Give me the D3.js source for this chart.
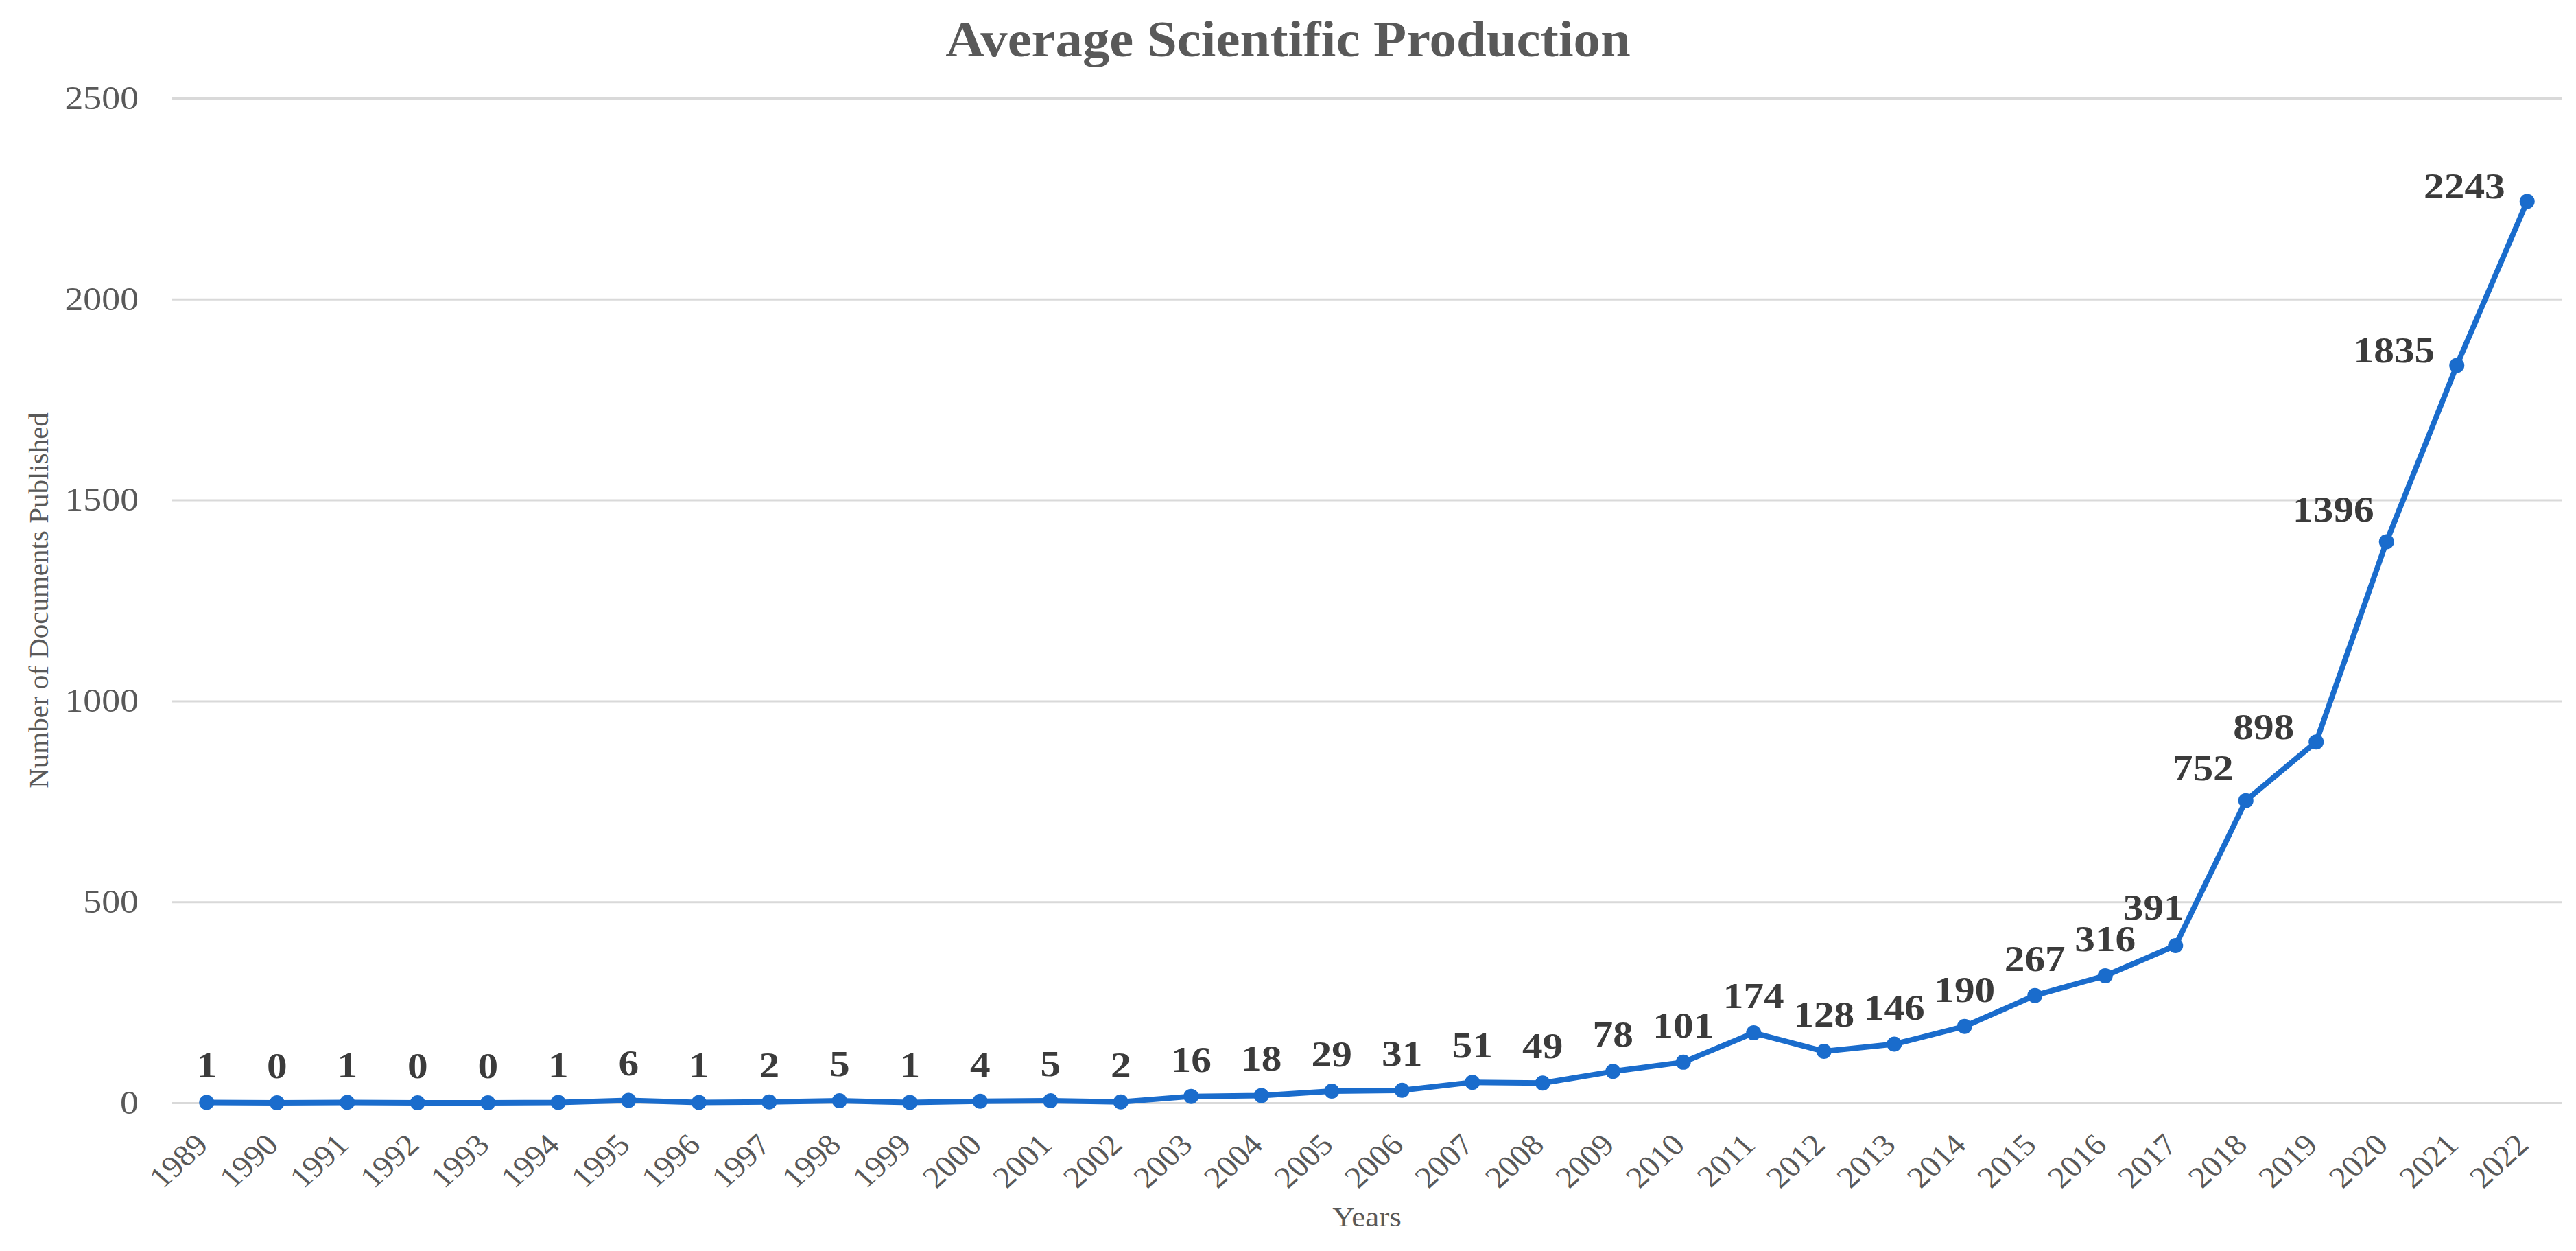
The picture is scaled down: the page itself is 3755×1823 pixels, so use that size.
<!DOCTYPE html>
<html>
    <head>
        <meta charset="utf-8">
        <title>Average Scientific Production</title>
        <script src="https://cdn.jsdelivr.net/npm/d3@7"></script>
        <style>
            body { margin: 0; background: #fff; }
            text { font-family: "Times New Roman", "Liberation Serif", serif; }
        </style>
    </head>
    <body>
        <script>
            // chart data
            var years = ["1989","1990","1991","1992","1993","1994","1995","1996","1997","1998",
                         "1999","2000","2001","2002","2003","2004","2005","2006","2007","2008",
                         "2009","2010","2011","2012","2013","2014","2015","2016","2017","2018",
                         "2019","2020","2021","2022"];
            var documents = [1,0,1,0,0,1,6,1,2,5,
                             1,4,5,2,16,18,29,31,51,49,
                             78,101,174,128,146,190,267,316,391,752,
                             898,1396,1835,2243];
            var yTicks = [0, 500, 1000, 1500, 2000, 2500];
            // where each value label sits relative to its point
            var labelSide = ["above","above","above","above","above","above","above","above","above","above",
                             "above","above","above","above","above","above","above","above","above","above",
                             "above","above","above","above","above","above","above","above","above-left","left-high",
                             "left","left-high","left","left"];

            var W = 3755, H = 1823;
            var plotLeft = 250, plotRight = 3735, plotTop = 143, plotBottom = 1607;
            var stretch = 1.12; // the source picture is a little wider than tall

            var placements = {
                "above":      { anchor: "middle", dx: 0,   dy: -36 },
                "above-left": { anchor: "middle", dx: -32, dy: -38 },
                "left-high":  { anchor: "end",    dx: -18, dy: -30 },
                "left":       { anchor: "end",    dx: -32, dy: -4 }
            };

            var svg = d3.select("body").append("svg")
                .attr("width", W)
                .attr("height", H);

            var x = d3.scalePoint().domain(years).range([plotLeft, plotRight]).padding(0.5);
            var y = d3.scaleLinear().domain([0, 2500]).range([plotBottom, plotTop]);

            // gridlines + y labels
            var yAxis = svg.append("g")
                .attr("transform", "translate(" + plotLeft + ",0)")
                .call(d3.axisLeft(y).tickValues(yTicks).tickFormat(d3.format("d"))
                    .tickSize(-(plotRight - plotLeft)).tickPadding(48));
            yAxis.select(".domain").remove();
            yAxis.selectAll(".tick line").attr("stroke", "#d9d9d9").attr("stroke-width", 3);
            yAxis.selectAll(".tick text")
                .attr("x", -48 / stretch)
                .attr("transform", "scale(" + stretch + ",1)")
                .attr("fill", "#595959")
                .style("font-size", "48px")
                .style("font-family", "'Times New Roman', 'Liberation Serif', serif");

            // x labels, rotated
            var xAxis = svg.append("g")
                .attr("transform", "translate(0," + plotBottom + ")")
                .call(d3.axisBottom(x).tickSize(0));
            xAxis.select(".domain").remove();
            xAxis.selectAll(".tick text")
                .attr("x", 0).attr("y", 0).attr("dy", 0)
                .attr("transform", "translate(4,64) scale(1.1,1) rotate(-45)")
                .attr("text-anchor", "end")
                .attr("fill", "#595959")
                .style("font-size", "44px")
                .style("font-family", "'Times New Roman', 'Liberation Serif', serif");

            // line + markers
            var line = d3.line()
                .x(function(d, i){ return x(years[i]); })
                .y(function(d){ return y(d); });

            svg.append("path")
                .datum(documents)
                .attr("d", line)
                .attr("fill", "none")
                .attr("stroke", "#1a6ccc")
                .attr("stroke-width", 8)
                .attr("stroke-linejoin", "round");

            svg.selectAll("circle.pt")
                .data(documents)
                .enter()
                .append("circle")
                .attr("class", "pt")
                .attr("cx", function(d, i){ return x(years[i]); })
                .attr("cy", function(d){ return y(d); })
                .attr("r", 11)
                .attr("fill", "#1a6ccc");

            // value labels
            svg.selectAll("text.val")
                .data(documents)
                .enter()
                .append("text")
                .attr("class", "val")
                .attr("transform", function(d, i){
                    var p = placements[labelSide[i]];
                    return "translate(" + (x(years[i]) + p.dx) + "," + (y(d) + p.dy) + ") scale(" + stretch + ",1)";
                })
                .attr("text-anchor", function(d, i){ return placements[labelSide[i]].anchor; })
                .attr("fill", "#3b3b3b")
                .style("font-size", "53px")
                .style("font-weight", "bold")
                .text(function(d){ return d; });

            // titles
            svg.append("text")
                .attr("transform", "translate(" + (W / 2) + ",82) scale(1.05,1)")
                .attr("text-anchor", "middle")
                .attr("fill", "#595959")
                .style("font-size", "75px")
                .style("font-weight", "bold")
                .text("Average Scientific Production");

            svg.append("text")
                .attr("transform", "translate(70," + ((plotTop + plotBottom) / 2) + ") rotate(-90)")
                .attr("text-anchor", "middle")
                .attr("fill", "#595959")
                .style("font-size", "41px")
                .text("Number of Documents Published");

            svg.append("text")
                .attr("transform", "translate(" + ((plotLeft + plotRight) / 2) + ",1787) scale(1.1,1)")
                .attr("text-anchor", "middle")
                .attr("fill", "#595959")
                .style("font-size", "41px")
                .text("Years");
        </script>
    </body>
</html>
